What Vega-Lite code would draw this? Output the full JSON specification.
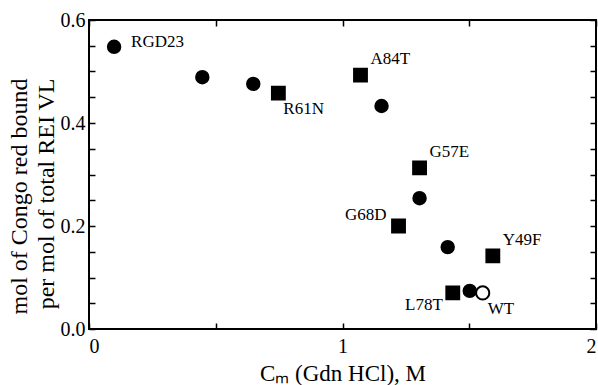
{
  "$schema": "https://vega.github.io/schema/vega-lite/v6.json",
  "width": 507,
  "height": 309,
  "autosize": {"type": "none"},
  "padding": {"left": 89, "top": 20, "right": 2, "bottom": 56},
  "background": "white",
  "config": {
    "view": {"stroke": "black", "strokeWidth": 2},
    "font": "Liberation Serif",
    "axis": {
      "domain": false, "tickColor": "black", "tickWidth": 1.5, "tickSize": 6,
      "labelColor": "black", "titleColor": "black", "grid": false,
      "labelFont": "Liberation Serif", "titleFont": "Liberation Serif",
      "labelFontSize": 20, "titleFontSize": 24, "titleFontWeight": "normal"
    }
  },
  "data": {"values": [
    {"cm": 0.099, "ratio": 0.548, "label": "RGD23", "group": "circle"},
    {"cm": 0.447, "ratio": 0.489, "label": "", "group": "circle"},
    {"cm": 0.648, "ratio": 0.476, "label": "", "group": "circle"},
    {"cm": 0.747, "ratio": 0.458, "label": "R61N", "group": "square"},
    {"cm": 1.071, "ratio": 0.493, "label": "A84T", "group": "square"},
    {"cm": 1.154, "ratio": 0.433, "label": "", "group": "circle"},
    {"cm": 1.304, "ratio": 0.313, "label": "G57E", "group": "square"},
    {"cm": 1.304, "ratio": 0.254, "label": "", "group": "circle"},
    {"cm": 1.221, "ratio": 0.200, "label": "G68D", "group": "square"},
    {"cm": 1.415, "ratio": 0.159, "label": "", "group": "circle"},
    {"cm": 1.593, "ratio": 0.142, "label": "Y49F", "group": "square"},
    {"cm": 1.435, "ratio": 0.070, "label": "L78T", "group": "square"},
    {"cm": 1.502, "ratio": 0.074, "label": "", "group": "circle"},
    {"cm": 1.553, "ratio": 0.070, "label": "WT", "group": "wt"}
  ]},
  "encoding": {
    "x": {"field": "cm", "type": "quantitative", "axis": null, "scale": {"domain": [0, 2], "nice": false, "zero": false}},
    "y": {"field": "ratio", "type": "quantitative", "axis": null, "scale": {"domain": [0, 0.6], "nice": false}}
  },
  "layer": [
    {
      "mark": {"type": "point", "filled": true, "strokeWidth": 2, "opacity": 1},
      "encoding": {
        "x": {"field": "cm", "type": "quantitative",
          "axis": {"orient": "bottom", "values": [0, 0.5, 1, 1.5, 2], "ticks": false, "labelPadding": 23, "labelBaseline": "alphabetic",
            "labelExpr": "datum.value % 1 == 0 ? format(datum.value, 'd') : ''", "labelOverlap": false,
            "title": "Cₘ (Gdn HCl), M", "titleFontSize": 23, "titleBaseline": "alphabetic", "titleY": 51}},
        "y": {"field": "ratio", "type": "quantitative",
          "axis": {"orient": "left", "values": [0, 0.2, 0.4, 0.6], "ticks": false, "labelPadding": 4, "format": ".1f",
            "title": ["mol of Congo red bound", "per mol of total REI VL"], "titleLineHeight": 27,
            "titleAlign": "right", "titleBaseline": "bottom", "titleY": 58, "titleX": -58, "titleAngle": -90}},
        "shape": {"field": "group", "type": "nominal", "legend": null,
          "scale": {"domain": ["circle", "square", "wt"], "range": ["circle", "square", "circle"]}},
        "fill": {"field": "group", "type": "nominal", "legend": null,
          "scale": {"domain": ["circle", "square", "wt"], "range": ["black", "black", "white"]}},
        "stroke": {"value": "black"},
        "size": {"field": "group", "type": "nominal", "legend": null,
          "scale": {"domain": ["circle", "square", "wt"], "range": [155, 175, 90]}}
      }
    },
    {
      "transform": [{"filter": {"field": "label", "oneOf": ["A84T", "G57E", "Y49F"]}}],
      "mark": {"type": "text", "align": "left", "dx": 10, "dy": -16, "fontSize": 17, "font": "Liberation Serif", "color": "black"},
      "encoding": {
        "text": {"field": "label"},
        "x": {"field": "cm", "type": "quantitative",
          "axis": {"orient": "top", "offset": -309, "values": [0, 0.5, 1, 1.5, 2], "labels": false, "title": null, "zindex": 2}},
        "y": {"field": "ratio", "type": "quantitative",
          "axis": {"orient": "right", "offset": -507, "values": [0, 0.05, 0.1, 0.15, 0.2, 0.25, 0.3, 0.35, 0.4, 0.45, 0.5, 0.55, 0.6], "labels": false, "title": null, "zindex": 2}}
      }
    },
    {
      "transform": [{"filter": {"field": "label", "oneOf": ["RGD23"]}}],
      "mark": {"type": "text", "align": "left", "dx": 17, "dy": -5, "fontSize": 17, "font": "Liberation Serif", "color": "black"},
      "encoding": {
        "text": {"field": "label"},
        "x": {"field": "cm", "type": "quantitative",
          "axis": {"orient": "bottom", "offset": -309, "values": [0, 0.5, 1, 1.5, 2], "labels": false, "title": null, "zindex": 2}},
        "y": {"field": "ratio", "type": "quantitative",
          "axis": {"orient": "left", "offset": -507, "values": [0, 0.05, 0.1, 0.15, 0.2, 0.25, 0.3, 0.35, 0.4, 0.45, 0.5, 0.55, 0.6], "labels": false, "title": null, "zindex": 2}}
      }
    },
    {
      "transform": [{"filter": {"field": "label", "oneOf": ["R61N", "WT"]}}],
      "mark": {"type": "text", "align": "left", "dx": 5, "dy": 16, "fontSize": 17, "font": "Liberation Serif", "color": "black"},
      "encoding": {"text": {"field": "label"}}
    },
    {
      "transform": [{"filter": {"field": "label", "oneOf": ["G68D"]}}],
      "mark": {"type": "text", "align": "right", "dx": -12, "dy": -11, "fontSize": 17, "font": "Liberation Serif", "color": "black"},
      "encoding": {"text": {"field": "label"}}
    },
    {
      "transform": [{"filter": {"field": "label", "oneOf": ["L78T"]}}],
      "mark": {"type": "text", "align": "right", "dx": -10, "dy": 12, "fontSize": 17, "font": "Liberation Serif", "color": "black"},
      "encoding": {"text": {"field": "label"}}
    }
  ]
}
